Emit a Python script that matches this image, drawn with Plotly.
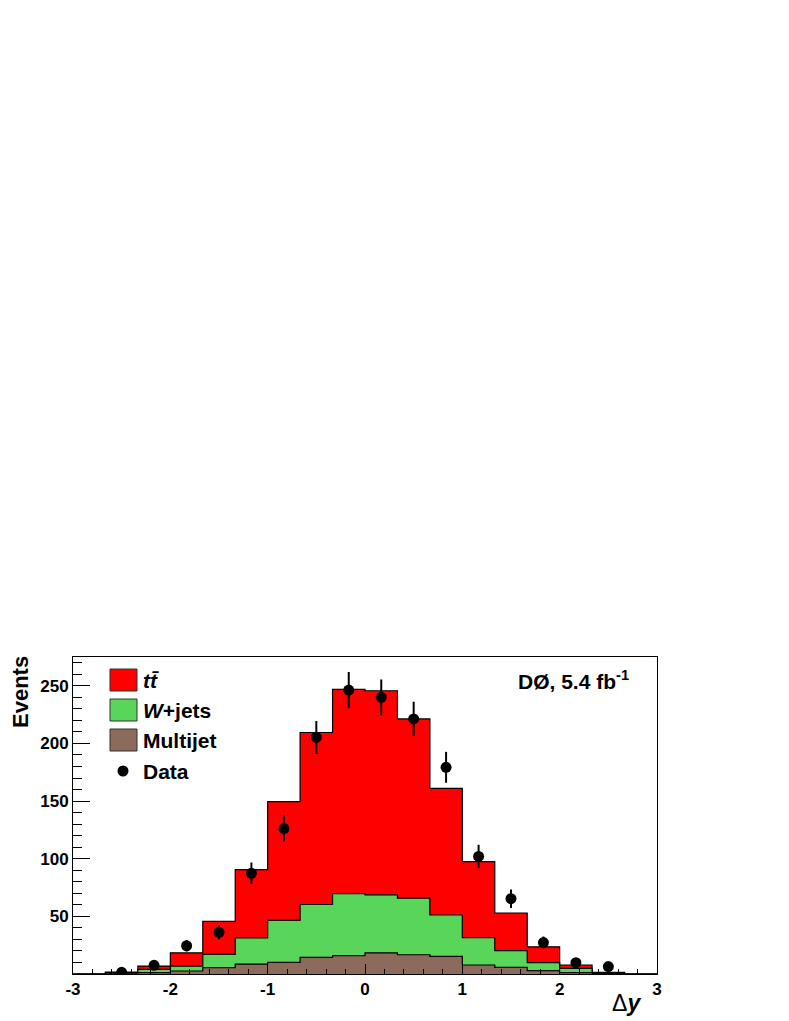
"""
Δy 분포 - ttbar / W+jets / Multijet 누적 히스토그램 + 데이터 점
"""

import numpy as np
import plotly.graph_objects as go

RED = "#ff0000"
GREEN = "#59d659"
BROWN = "#8c6a5c"
FONT = "Liberation Sans, Arial, Helvetica, sans-serif"

# 빈 경계 -3 ~ 3, 폭 1/3 (18개 빈, 양 끝은 비어 있음)
bin_edges = np.linspace(-3, 3, 19)

# 성분별 사건 수
multijet = [0, 0.7, 1.2, 2.6, 5.5, 8.6, 10, 14.4, 15.9, 18.4, 16.7, 15.3, 7.8, 5.8, 2.9, 1.2, 0.5, 0]
wjets = [0, 0.5, 2.8, 4.3, 11.5, 22.8, 36.5, 45.9, 53.7, 50.3, 49.1, 35.9, 23.8, 14.4, 6.9, 3.7, 0.5, 0]
ttbar = [0, 0.5, 2.9, 11.5, 28.7, 59.1, 103.1, 149.2, 177.4, 177, 155.5, 109.8, 65.8, 32.7, 13.8, 2.9, 0.5, 0]

# 데이터 (빈 중심 -2.5 ~ 2.5)
data_x = [-2.5, -2.167, -1.833, -1.5, -1.167, -0.833, -0.5, -0.167,
          0.167, 0.5, 0.833, 1.167, 1.5, 1.833, 2.167, 2.5]
data_y = [1.5, 7.5, 24.5, 36.2, 87.4, 126.2, 205.2, 246.3,
          240, 221.3, 179.3, 102, 65.3, 27.3, 9.8, 6.4]
data_err = [1.2, 2.7, 5, 6, 9.3, 11.2, 14.3, 15.7,
            15.5, 14.9, 13.4, 10.1, 8.1, 5.2, 3.1, 2.5]

x_tick_vals = [-3, -2, -1, 0, 1, 2, 3]
x_tick_text = ["-3", "-2", "-1", "0", "1", "2", "3"]
y_tick_vals = [50, 100, 150, 200, 250]

# 플롯 영역 (페이지 픽셀, body 여백 8px 보정)
OFF = 8
W, H = 789 - OFF, 1021 - OFF
L, R, T, B = 73, 657, 657, 974


def px(x):
    return (x - L) / (R - L)


def py(y):
    return (B - y) / (B - T)


# 누적 높이
stack_mj = np.array(multijet)
stack_w = stack_mj + np.array(wjets)
stack_tt = stack_w + np.array(ttbar)

fig = go.Figure()
for vals, color in [(stack_tt, RED), (stack_w, GREEN), (stack_mj, BROWN)]:
    y = list(vals) + [vals[-1]]
    fig.add_trace(go.Scatter(
        x=bin_edges, y=y,
        mode="lines", line=dict(color="black", width=1.2, shape="hv"),
        fill="tozeroy", fillcolor=color,
        showlegend=False, hoverinfo="skip",
    ))

fig.add_trace(go.Scatter(
    x=data_x, y=data_y, mode="markers",
    marker=dict(color="black", size=11),
    error_y=dict(type="data", array=data_err, width=0, thickness=2, color="black"),
    showlegend=False,
))

# 범례 (수동)
shapes = []
legend_rows = [(RED, 669, "<i>t</i><i>t\u0304</i>"), (GREEN, 699, "<i>W</i>+jets"),
               (BROWN, 729, "Multijet")]
annotations = []
for color, top, label in legend_rows:
    shapes.append(dict(type="rect", xref="paper", yref="paper",
                       x0=px(110), x1=px(137), y0=py(top + 22), y1=py(top),
                       fillcolor=color, line=dict(color="#333", width=1)))
    annotations.append(dict(xref="paper", yref="paper", x=px(141), y=py(top + 11),
                            xanchor="left", yanchor="middle", showarrow=False,
                            text=label, font=dict(size=21, family=FONT, weight="bold")))
shapes.append(dict(type="circle", xref="paper", yref="paper",
                   x0=px(117.5), x1=px(128.5), y0=py(776.5), y1=py(765.5),
                   fillcolor="black", line=dict(color="black", width=0)))
annotations.append(dict(xref="paper", yref="paper", x=px(141), y=py(771),
                        xanchor="left", yanchor="middle", showarrow=False,
                        text="Data", font=dict(size=21, family=FONT, weight="bold")))

annotations.append(dict(xref="paper", yref="paper", x=px(631), y=py(680),
                        xanchor="right", yanchor="middle", showarrow=False,
                        text="DØ, 5.4 fb<sup>-1</sup>",
                        font=dict(size=21, family=FONT, weight="bold")))
annotations.append(dict(xref="paper", yref="paper", x=px(20), y=py(654),
                        xanchor="center", yanchor="top", showarrow=False, textangle=-90,
                        text="Events", font=dict(size=22, family=FONT, weight="bold")))
annotations.append(dict(xref="paper", yref="paper", x=px(643), y=py(1003),
                        xanchor="right", yanchor="middle", showarrow=False,
                        text="Δ<b><i>y</i></b>", font=dict(size=23, family=FONT)))

fig.update_layout(
    width=W, height=H,
    margin=dict(l=L - OFF, r=W - (R - OFF), t=T - OFF, b=H - (B - OFF)),
    paper_bgcolor="white", plot_bgcolor="white",
    font=dict(family=FONT, color="black"),
    shapes=shapes, annotations=annotations,
    xaxis=dict(range=[-3, 3], tickmode="array", tickvals=x_tick_vals, ticktext=x_tick_text,
               ticks="inside", ticklen=10, tickcolor="black", tickwidth=1,
               minor=dict(ticks="inside", ticklen=5, dtick=0.2, tick0=-3, tickcolor="black"),
               showline=True, linecolor="black", linewidth=1, mirror=True,
               showgrid=False, zeroline=False,
               tickfont=dict(size=17, family=FONT, weight="bold")),
    yaxis=dict(range=[0, 275], tickmode="array", tickvals=y_tick_vals,
               ticks="inside", ticklen=17, tickcolor="black", tickwidth=1,
               minor=dict(ticks="inside", ticklen=9, dtick=10, tick0=0, tickcolor="black"),
               showline=True, linecolor="black", linewidth=1, mirror=True,
               showgrid=False, zeroline=False,
               tickfont=dict(size=17, family=FONT, weight="bold")),
)

fig.write_html("out.html")
